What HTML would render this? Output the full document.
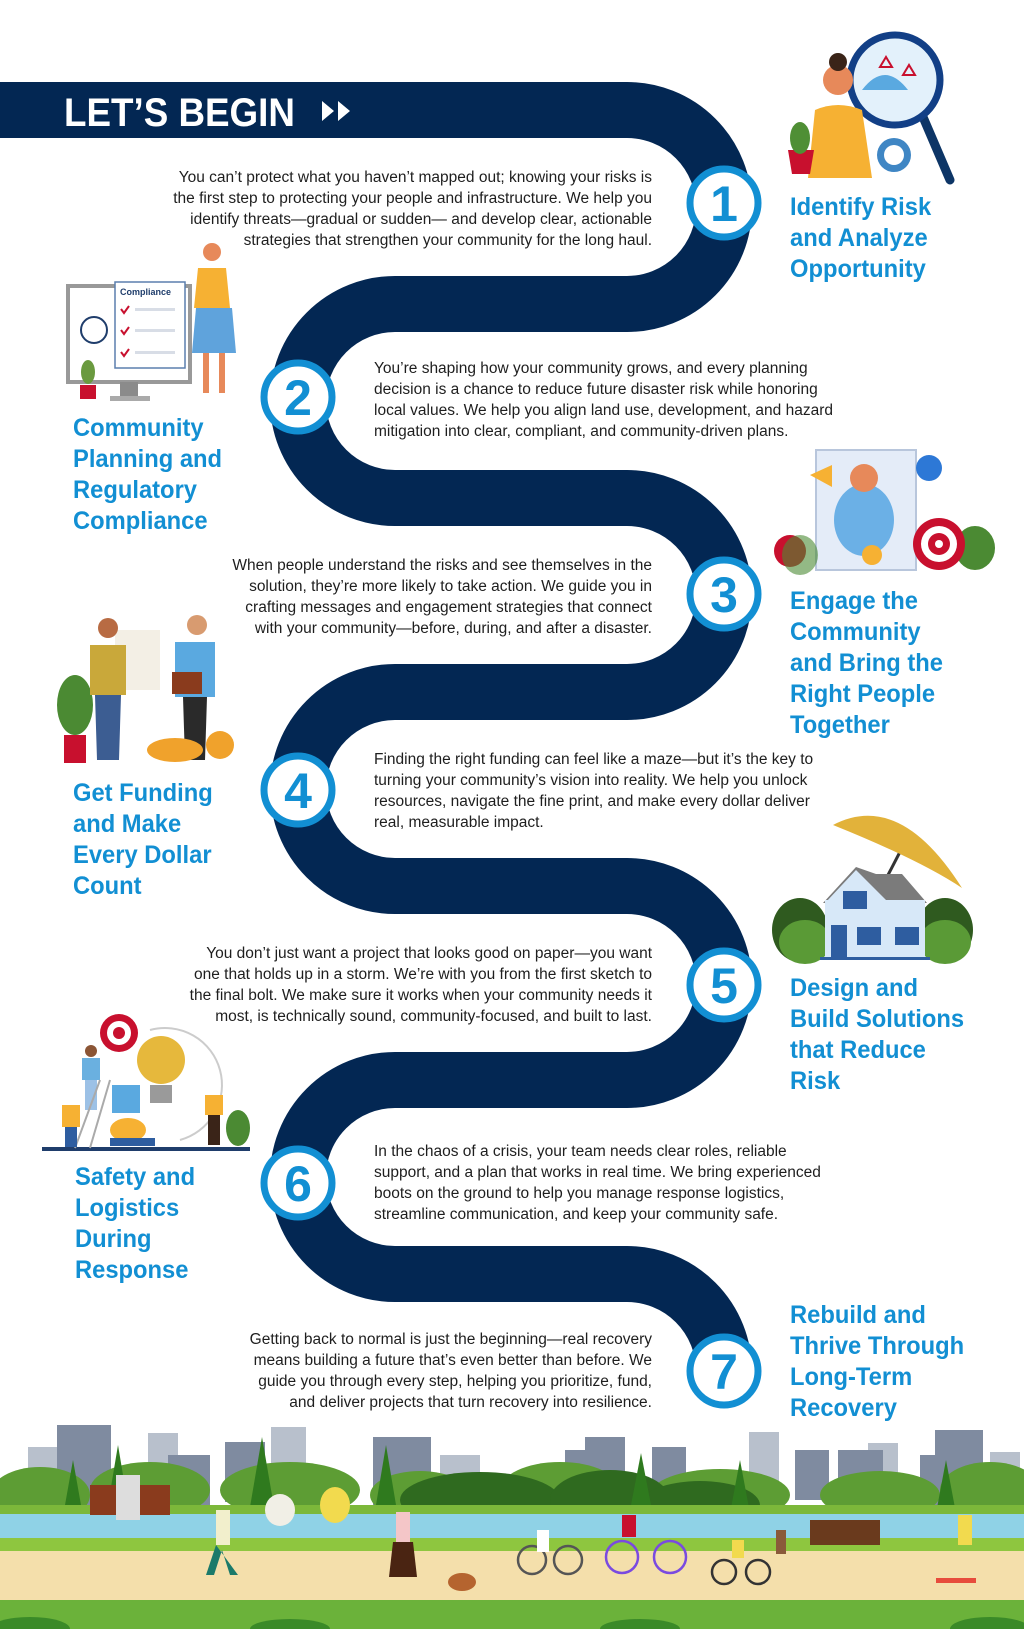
<!DOCTYPE html>
<html><head><meta charset="utf-8"><style>
html,body{margin:0;padding:0;background:#fff}
svg{display:block}
.b{font-family:"Liberation Sans",sans-serif;font-size:15.5px;fill:#1e1e1e}
.t{font-family:"Liberation Sans",sans-serif;font-weight:bold;font-size:25px;fill:#128fd3}
.n{font-family:"Liberation Sans",sans-serif;font-weight:bold;font-size:50px;fill:#128fd3}
</style></head><body>
<svg width="1024" height="1629" viewBox="0 0 1024 1629" xmlns="http://www.w3.org/2000/svg">
<rect width="1024" height="1629" fill="#fff"/>
<!-- road -->
<path d="M0 110 H627 A97 97 0 0 1 724 207 A97 97 0 0 1 627 304 H395 A97 97 0 0 0 298 401 A97 97 0 0 0 395 498 H627 A97 97 0 0 1 724 595 A97 97 0 0 1 627 692 H395 A97 97 0 0 0 298 789 A97 97 0 0 0 395 886 H627 A97 97 0 0 1 724 983 A97 97 0 0 1 627 1080 H395 A97 97 0 0 0 298 1177 A97 97 0 0 0 395 1274 H627 A97 97 0 0 1 724 1371" fill="none" stroke="#032753" stroke-width="56"/>
<text x="64" y="126" font-family="Liberation Sans,sans-serif" font-weight="bold" font-size="40" fill="#fff" transform="translate(64 0) scale(.92 1) translate(-64 0)">LET’S BEGIN</text>
<path d="M322 101 L334 111 L322 121 Z M338 101 L350 111 L338 121 Z" fill="#fff"/>

<!-- circles -->
<g fill="#fff" stroke="#128fd3" stroke-width="7">
<circle cx="724" cy="203" r="34"/><circle cx="298" cy="397" r="34"/><circle cx="724" cy="594" r="34"/><circle cx="298" cy="790" r="34"/><circle cx="724" cy="985" r="34"/><circle cx="298" cy="1183" r="34"/><circle cx="724" cy="1371" r="34"/>
</g>
<g class="n" text-anchor="middle">
<text x="724" y="221">1</text><text x="298" y="415">2</text><text x="724" y="612">3</text><text x="298" y="808">4</text><text x="724" y="1003">5</text><text x="298" y="1201">6</text><text x="724" y="1389">7</text>
</g>

<!-- body texts -->
<g class="b" text-anchor="end">
<text x="652" y="182">You can’t protect what you haven’t mapped out; knowing your risks is</text>
<text x="652" y="203">the first step to protecting  your people and infrastructure. We help you</text>
<text x="652" y="224">identify threats—gradual or sudden— and develop clear, actionable</text>
<text x="652" y="245">strategies that strengthen your community for the long haul.</text>
<text x="652" y="570">When people understand the risks and see themselves in the</text>
<text x="652" y="591">solution, they’re more likely to take action. We guide you in</text>
<text x="652" y="612">crafting messages and engagement strategies that connect</text>
<text x="652" y="633">with your community—before, during, and after a disaster.</text>
<text x="652" y="958">You don’t just want a project that looks good on paper—you want</text>
<text x="652" y="979">one that holds up in a storm. We’re with you from the first sketch to</text>
<text x="652" y="1000">the final bolt. We make sure it works when your community needs it</text>
<text x="652" y="1021">most, is technically sound, community-focused, and built to last.</text>
<text x="652" y="1344">Getting back to normal is just the beginning—real recovery</text>
<text x="652" y="1365">means building a future that’s even better than before. We</text>
<text x="652" y="1386">guide you through every step, helping you prioritize, fund,</text>
<text x="652" y="1407">and deliver projects that turn recovery into resilience.</text>
</g>
<g class="b">
<text x="374" y="373">You’re shaping how your community grows, and every planning</text>
<text x="374" y="394">decision is a chance to reduce future disaster risk while honoring</text>
<text x="374" y="415">local values. We help you align land use, development, and hazard</text>
<text x="374" y="436">mitigation into clear, compliant, and community-driven plans.</text>
<text x="374" y="764">Finding the right funding can feel like a maze—but it’s the key to</text>
<text x="374" y="785">turning your community’s vision into reality. We help you unlock</text>
<text x="374" y="806">resources, navigate the fine print, and make every dollar deliver</text>
<text x="374" y="827">real, measurable impact.</text>
<text x="374" y="1156">In the chaos of a crisis, your team needs clear roles, reliable</text>
<text x="374" y="1177">support, and a plan that works in real time. We bring experienced</text>
<text x="374" y="1198">boots on the ground to help you manage response logistics,</text>
<text x="374" y="1219">streamline communication, and keep your community safe.</text>
</g>

<!-- titles -->
<g class="t">
<g transform="translate(790 215) scale(.95 1)"><text y="0">Identify Risk</text><text y="31">and  Analyze</text><text y="62">Opportunity</text></g>
<g transform="translate(73 436) scale(.95 1)"><text y="0">Community</text><text y="31">Planning and</text><text y="62">Regulatory</text><text y="93">Compliance</text></g>
<g transform="translate(790 609) scale(.95 1)"><text y="0">Engage the</text><text y="31">Community</text><text y="62">and Bring the</text><text y="93">Right People</text><text y="124">Together</text></g>
<g transform="translate(73 801) scale(.95 1)"><text y="0">Get Funding</text><text y="31">and Make</text><text y="62">Every Dollar</text><text y="93">Count</text></g>
<g transform="translate(790 996) scale(.95 1)"><text y="0">Design and</text><text y="31">Build  Solutions</text><text y="62">that Reduce</text><text y="93">Risk</text></g>
<g transform="translate(75 1185) scale(.95 1)"><text y="0">Safety and</text><text y="31">Logistics</text><text y="62">During</text><text y="93">Response</text></g>
<g transform="translate(790 1323) scale(.95 1)"><text y="0">Rebuild and</text><text y="31">Thrive Through</text><text y="62">Long-Term</text><text y="93">Recovery</text></g>
</g>

<!-- illus 1 -->
<line x1="920" y1="110" x2="950" y2="180" stroke="#0d3566" stroke-width="9" stroke-linecap="round"/>
<circle cx="895" cy="80" r="45" fill="#e3f1fb" stroke="#123f86" stroke-width="7"/>
<path d="M862 90 Q885 60 908 90 Z" fill="#5aa9e0"/>
<path d="M880 67 l6-10 l6 10z M903 75 l6-10 l6 10z" fill="none" stroke="#c8102e" stroke-width="2"/>
<circle cx="838" cy="80" r="15" fill="#e7895a"/><circle cx="838" cy="62" r="9" fill="#3a2418"/>
<path d="M815 110 Q838 100 862 110 L872 178 L808 178 Z" fill="#f6b133"/>
<path d="M788 150 h26 l-4 24 h-18z" fill="#c8102e"/><ellipse cx="800" cy="138" rx="10" ry="16" fill="#4f8f35"/>
<circle cx="894" cy="155" r="17" fill="#3f86c4"/><circle cx="894" cy="155" r="10" fill="#fff"/>

<!-- illus 2 -->
<rect x="68" y="286" width="122" height="96" fill="#fff" stroke="#999" stroke-width="4"/>
<rect x="120" y="382" width="18" height="14" fill="#8b8b8b"/><rect x="110" y="396" width="40" height="5" fill="#aaa"/>
<rect x="115" y="282" width="70" height="86" fill="#fff" stroke="#5b7fad" stroke-width="1.5"/>
<text x="120" y="295" font-family="Liberation Sans,sans-serif" font-size="9" font-weight="bold" fill="#1f3d6b">Compliance</text>
<g stroke="#c8102e" stroke-width="2" fill="none"><path d="M121 309 l3 4 l5-7"/><path d="M121 330 l3 4 l5-7"/><path d="M121 352 l3 4 l5-7"/></g>
<g fill="#d8dde6"><rect x="135" y="308" width="40" height="3"/><rect x="135" y="329" width="40" height="3"/><rect x="135" y="351" width="40" height="3"/></g>
<circle cx="94" cy="330" r="13" fill="none" stroke="#1f3d6b" stroke-width="2"/>
<rect x="80" y="385" width="16" height="14" fill="#c8102e"/><ellipse cx="88" cy="372" rx="7" ry="12" fill="#6a9a3f"/>
<circle cx="212" cy="252" r="9" fill="#e7895a"/><path d="M198 268 h28 l4 40 h-36z" fill="#f6b133"/>
<path d="M196 308 h36 l4 45 h-44z" fill="#5fa3dc"/><path d="M203 353 h6 v40 h-6z M219 353 h6 v40 h-6z" fill="#e7895a"/>

<!-- illus 3 -->
<rect x="816" y="450" width="100" height="120" fill="#e4ecf8" stroke="#b8c6dc" stroke-width="2"/>
<ellipse cx="864" cy="520" rx="30" ry="36" fill="#6bb0e6"/><circle cx="864" cy="478" r="14" fill="#e7895a"/>
<circle cx="872" cy="555" r="10" fill="#f6b133"/>
<circle cx="790" cy="551" r="16" fill="#c8102e"/><circle cx="929" cy="468" r="13" fill="#2d78d6"/>
<ellipse cx="800" cy="555" rx="18" ry="20" fill="#4b8a33" opacity=".6"/>
<ellipse cx="975" cy="548" rx="20" ry="22" fill="#4b8a33"/>
<circle cx="939" cy="544" r="26" fill="#c8102e"/><circle cx="939" cy="544" r="18" fill="#fff"/><circle cx="939" cy="544" r="11" fill="#c8102e"/><circle cx="939" cy="544" r="4" fill="#fff"/>
<path d="M810 475 l22-10 v22 z" fill="#f6b133"/>

<!-- illus 4 -->
<ellipse cx="75" cy="705" rx="18" ry="30" fill="#4b8a33"/><rect x="64" y="735" width="22" height="28" fill="#c8102e"/>
<rect x="115" y="630" width="45" height="60" fill="#f3efe5"/>
<circle cx="108" cy="628" r="10" fill="#b86b43"/><path d="M90 645 h36 v50 h-36z" fill="#c9a83a"/><path d="M95 695 h26 l-2 65 h-22z" fill="#3c5d92"/>
<circle cx="197" cy="625" r="10" fill="#d89b70"/><path d="M175 642 h40 v55 h-40z" fill="#5aa9e0"/><path d="M183 697 h24 l-2 63 h-20z" fill="#2a2a2a"/>
<rect x="172" y="672" width="30" height="22" fill="#8a3b1d"/>
<ellipse cx="175" cy="750" rx="28" ry="12" fill="#f0a22c"/><circle cx="220" cy="745" r="14" fill="#f0a22c"/>

<!-- illus 5 -->
<ellipse cx="800" cy="930" rx="28" ry="32" fill="#2f5a1f"/><ellipse cx="945" cy="930" rx="28" ry="32" fill="#2f5a1f"/>
<ellipse cx="805" cy="942" rx="26" ry="22" fill="#5a9a36"/><ellipse cx="945" cy="942" rx="26" ry="22" fill="#5a9a36"/>
<line x1="888" y1="875" x2="902" y2="848" stroke="#333" stroke-width="3"/>
<path d="M833 825 Q900 790 962 888 Q920 860 833 825 Z" fill="#e2b23a"/>
<path d="M856 867 L823 903 H927 L902 874 H876 Z" fill="#7b7b7b"/>
<rect x="825" y="900" width="100" height="60" fill="#d7e8f8"/>
<path d="M856 870 L826 902 H888 Z" fill="#d7e8f8"/>
<g fill="#2e5da0"><rect x="843" y="891" width="24" height="18"/><rect x="857" y="927" width="24" height="18"/><rect x="895" y="927" width="24" height="18"/><rect x="831" y="925" width="16" height="32"/></g>
<rect x="820" y="957" width="110" height="3" fill="#2e5da0"/>

<!-- illus 6 -->
<rect x="42" y="1147" width="208" height="4" fill="#1f3d6b"/>
<circle cx="119" cy="1033" r="19" fill="#c8102e"/><circle cx="119" cy="1033" r="12" fill="#fff"/><circle cx="119" cy="1033" r="6" fill="#c8102e"/>
<circle cx="161" cy="1060" r="24" fill="#e6b83c"/><rect x="150" y="1085" width="22" height="18" fill="#9a9a9a"/>
<path d="M150 1030 a45 45 0 0 1 30 110" fill="none" stroke="#ccc" stroke-width="2"/>
<rect x="112" y="1085" width="28" height="28" fill="#5aa9e0"/>
<circle cx="91" cy="1051" r="6" fill="#8b5535"/><rect x="82" y="1058" width="18" height="22" fill="#6ab0e0"/><rect x="85" y="1080" width="12" height="30" fill="#9cc1e6"/>
<line x1="100" y1="1080" x2="75" y2="1148" stroke="#aaa" stroke-width="2"/><line x1="110" y1="1080" x2="90" y2="1148" stroke="#aaa" stroke-width="2"/>
<rect x="62" y="1105" width="18" height="22" fill="#f6b133"/><rect x="65" y="1127" width="12" height="20" fill="#2e5da0"/>
<ellipse cx="128" cy="1130" rx="18" ry="12" fill="#f6b133"/><rect x="110" y="1138" width="45" height="8" fill="#2e5da0"/>
<rect x="205" y="1095" width="18" height="20" fill="#f6b133"/><rect x="208" y="1115" width="12" height="30" fill="#3a2418"/>
<ellipse cx="238" cy="1128" rx="12" ry="18" fill="#4b8a33"/>

<!-- park scene -->
<g fill="#b8c0cc"><rect x="28" y="1447" width="30" height="60"/><rect x="148" y="1433" width="30" height="70"/><rect x="271" y="1427" width="35" height="80"/><rect x="440" y="1455" width="40" height="50"/><rect x="749" y="1432" width="30" height="70"/><rect x="868" y="1443" width="30" height="60"/><rect x="990" y="1452" width="30" height="50"/></g>
<g fill="#7f8ba0"><rect x="57" y="1425" width="54" height="80"/><rect x="168" y="1455" width="42" height="50"/><rect x="225" y="1442" width="40" height="60"/><rect x="373" y="1437" width="58" height="70"/><rect x="565" y="1450" width="60" height="55"/><rect x="585" y="1437" width="40" height="30"/><rect x="652" y="1447" width="34" height="60"/><rect x="795" y="1450" width="34" height="50"/><rect x="838" y="1450" width="45" height="50"/><rect x="920" y="1455" width="40" height="50"/><rect x="935" y="1430" width="48" height="75"/></g>
<g fill="#5d9d34"><ellipse cx="40" cy="1495" rx="50" ry="28"/><ellipse cx="150" cy="1490" rx="60" ry="28"/><ellipse cx="290" cy="1490" rx="70" ry="28"/><ellipse cx="420" cy="1495" rx="50" ry="24"/><ellipse cx="560" cy="1490" rx="60" ry="28"/><ellipse cx="720" cy="1495" rx="70" ry="26"/><ellipse cx="880" cy="1495" rx="60" ry="24"/><ellipse cx="990" cy="1490" rx="50" ry="28"/></g>
<g fill="#2f6a1f"><ellipse cx="480" cy="1500" rx="80" ry="28"/><ellipse cx="610" cy="1500" rx="60" ry="30"/><ellipse cx="700" cy="1505" rx="60" ry="24"/></g>
<g fill="#2f7a1e"><path d="M118 1445 l10 60 h-20z"/><path d="M262 1437 l12 70 h-24z"/><path d="M386 1445 l10 60 h-20z"/><path d="M641 1453 l10 52 h-20z"/><path d="M740 1460 l9 48 h-18z"/><path d="M946 1460 l9 48 h-18z"/><path d="M73 1460 l8 45 h-16z"/></g>
<rect x="0" y="1505" width="1024" height="10" fill="#7cb83a"/>
<rect x="0" y="1514" width="1024" height="25" fill="#8fd2e6"/>
<rect x="0" y="1538" width="1024" height="13" fill="#8ec63f"/>
<rect x="0" y="1551" width="1024" height="56" fill="#f4dfab"/>
<rect x="0" y="1600" width="1024" height="29" fill="#6bb23a"/>
<g fill="#3a8a28"><ellipse cx="30" cy="1629" rx="40" ry="12"/><ellipse cx="290" cy="1629" rx="40" ry="10"/><ellipse cx="640" cy="1629" rx="40" ry="10"/><ellipse cx="990" cy="1629" rx="40" ry="12"/></g>
<!-- people/props -->
<rect x="90" y="1485" width="80" height="30" fill="#8a3b1d"/><rect x="116" y="1475" width="24" height="45" fill="#ddd"/>
<rect x="810" y="1520" width="70" height="25" fill="#6a3a1d"/><rect x="776" y="1530" width="10" height="24" fill="#8a5a3a"/>
<ellipse cx="280" cy="1510" rx="15" ry="16" fill="#f1efe6"/><ellipse cx="335" cy="1505" rx="15" ry="18" fill="#f2da4e"/>
<rect x="216" y="1510" width="14" height="35" fill="#f2efcc"/><path d="M216 1545 l-10 30 h8 l8-25 l8 25 h8z" fill="#1b7a6a"/>
<rect x="396" y="1512" width="14" height="30" fill="#f4c6c8"/><path d="M393 1542 h20 l4 35 h-28z" fill="#4a2412"/>
<ellipse cx="462" cy="1582" rx="14" ry="9" fill="#b5642f"/>
<g fill="none" stroke-width="2.5"><circle cx="532" cy="1560" r="14" stroke="#555"/><circle cx="568" cy="1560" r="14" stroke="#555"/><circle cx="622" cy="1557" r="16" stroke="#7a4ae0"/><circle cx="670" cy="1557" r="16" stroke="#7a4ae0"/><circle cx="724" cy="1572" r="12" stroke="#333"/><circle cx="758" cy="1572" r="12" stroke="#333"/></g>
<rect x="537" y="1530" width="12" height="22" fill="#fff"/><rect x="622" y="1515" width="14" height="22" fill="#c8102e"/><rect x="732" y="1540" width="12" height="18" fill="#f2da4e"/>
<rect x="958" y="1515" width="14" height="30" fill="#f2da4e"/><rect x="936" y="1578" width="40" height="5" fill="#e74c3c"/>
</svg>
</body></html>
